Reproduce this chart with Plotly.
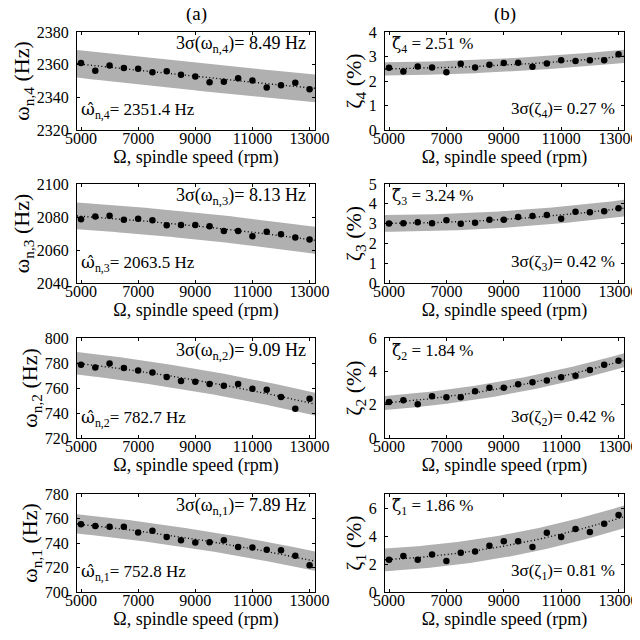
import numpy as np
import plotly.graph_objects as go

# ---------------- data ----------------
speed = [5000, 5500, 6000, 6500, 7000, 7500, 8000, 8500, 9000,
         9500, 10000, 10500, 11000, 11500, 12000, 12500, 13000]

wn4 = [2361.0, 2356.2, 2359.5, 2358.0, 2357.5, 2355.4, 2356.0, 2353.8, 2352.7,
       2349.3, 2349.5, 2351.7, 2350.3, 2346.0, 2347.4, 2349.0, 2345.0]
wn3 = [2078.7, 2080.3, 2080.7, 2078.3, 2078.9, 2078.1, 2075.0, 2075.2, 2075.2,
       2074.4, 2071.5, 2071.5, 2068.4, 2071.1, 2069.5, 2067.6, 2066.4]
wn2 = [778.7, 776.5, 779.7, 776.0, 774.1, 772.5, 768.8, 765.6, 765.1,
       763.2, 761.9, 763.2, 759.5, 758.7, 752.8, 743.5, 751.5]
wn1 = [755.4, 753.8, 753.2, 753.2, 748.6, 750.0, 745.0, 742.3, 740.4,
       740.7, 742.3, 736.8, 736.3, 734.4, 734.1, 729.5, 721.8]

z4 = [2.54, 2.39, 2.59, 2.55, 2.36, 2.70, 2.55, 2.66, 2.73,
      2.74, 2.58, 2.71, 2.85, 2.82, 2.85, 2.85, 3.09]
z3 = [3.00, 3.02, 3.07, 3.02, 3.17, 2.99, 3.04, 3.19, 3.19,
      3.33, 3.38, 3.43, 3.24, 3.60, 3.57, 3.62, 3.77]
z2 = [2.16, 2.26, 2.02, 2.51, 2.44, 2.44, 2.81, 3.01, 3.01,
      3.23, 3.35, 3.45, 3.64, 3.74, 4.08, 4.40, 4.63]
z1 = [2.31, 2.57, 2.31, 2.67, 2.21, 2.81, 2.90, 3.31, 3.62,
      3.62, 3.21, 4.24, 3.93, 4.50, 4.29, 4.88, 5.50]

three_sigma_w = [8.49, 8.13, 9.09, 7.89]      # modes 4,3,2,1
three_sigma_z = [0.27, 0.42, 0.42, 0.81]
w_hat = [2351.4, 2063.5, 782.7, 752.8]
z_hat = [2.51, 3.24, 1.84, 1.86]
mode_ids = [4, 3, 2, 1]

w_ranges = [[2320, 2380], [2040, 2100], [720, 800], [700, 780]]
w_ticks = [[2320, 2340, 2360, 2380], [2040, 2060, 2080, 2100],
           [720, 740, 760, 780, 800], [700, 720, 740, 760, 780]]
z_ranges = [[0, 4], [0, 5], [0, 6], [0, 7]]
z_ticks = [[0, 1, 2, 3, 4], [0, 1, 2, 3, 4, 5], [0, 2, 4, 6], [0, 2, 4, 6]]
x_ticks = [5000, 7000, 9000, 11000, 13000]
x_ticktext = ["5000", "7000", "9000", "11000", "13000"]
x_range = [4860, 13190]

w_data = [wn4, wn3, wn2, wn1]
z_data = [z4, z3, z2, z1]

# ---------------- layout geometry ----------------
W = H = 640
OFF = 8  # page body margin offset
col_x = [[77, 315], [385, 624]]
row_y = [[32, 130], [184, 283], [338, 438], [494, 592]]

FONT = "Liberation Serif"
HATFONT = "DejaVu Serif"
BAND = "rgb(176,176,176)"

fig = go.Figure()
layout = dict(
    width=W, height=H, margin=dict(l=0, r=0, t=0, b=0, autoexpand=False),
    paper_bgcolor="white", plot_bgcolor="white", showlegend=False,
    font=dict(family=FONT, size=16, color="black"),
)
annotations = []

xgrid = np.linspace(x_range[0], x_range[1], 200)
xs = np.array(speed, dtype=float)


def hat(ch):
    return f'<span style="font-family:{HATFONT}">{ch}\u0302</span>'


idx = 0
for r in range(4):
    for c in range(2):
        idx += 1
        xa = "x" if idx == 1 else f"x{idx}"
        ya = "y" if idx == 1 else f"y{idx}"
        xkey = "xaxis" if idx == 1 else f"xaxis{idx}"
        ykey = "yaxis" if idx == 1 else f"yaxis{idx}"
        m = mode_ids[r]
        if c == 0:
            ys = np.array(w_data[r])
            sig = three_sigma_w[r]
            yr, yt = w_ranges[r], w_ticks[r]
            ytitle = f"ω<sub>n,{m}</sub> (Hz)"
        else:
            ys = np.array(z_data[r])
            sig = three_sigma_z[r]
            yr, yt = z_ranges[r], z_ticks[r]
            ytitle = f"ζ<sub>{m}</sub> (%)"
        coef = np.polyfit(xs, ys, 2)
        fit = np.polyval(coef, xgrid)
        # band
        fig.add_trace(go.Scatter(
            x=np.concatenate([xgrid, xgrid[::-1]]),
            y=np.concatenate([fit + sig, (fit - sig)[::-1]]),
            fill="toself", fillcolor=BAND, line=dict(width=0),
            mode="lines", hoverinfo="skip", xaxis=xa, yaxis=ya))
        # fit line
        fig.add_trace(go.Scatter(
            x=xgrid, y=fit, mode="lines",
            line=dict(color="black", width=1.4, dash="1px,2.5px"),
            xaxis=xa, yaxis=ya))
        # data
        fig.add_trace(go.Scatter(
            x=xs, y=ys, mode="markers",
            marker=dict(color="black", size=6.5),
            xaxis=xa, yaxis=ya))

        x0, x1 = [v - OFF for v in col_x[c]]
        y0, y1 = [v - OFF for v in row_y[r]]
        layout[xkey] = dict(
            domain=[x0 / W, x1 / W], anchor=ya, range=x_range,
            tickvals=x_ticks, ticktext=x_ticktext,
            ticks="inside", ticklen=3, tickcolor="black",
            showline=True, linecolor="black", linewidth=1, mirror="ticks",
            showgrid=False, zeroline=False, automargin=False,
            ticklabelstandoff=-6,
            tickfont=dict(family=FONT, size=16),
            title=dict(text="Ω, spindle speed (rpm)", standoff=0,
                       font=dict(family=FONT, size=18)))
        layout[ykey] = dict(
            domain=[1 - y1 / H, 1 - y0 / H], anchor=xa, range=yr,
            tickvals=yt, ticks="inside", ticklen=3, tickcolor="black",
            showline=True, linecolor="black", linewidth=1, mirror="ticks",
            showgrid=False, zeroline=False, automargin=False,
            ticklabelstandoff=4,
            tickfont=dict(family=FONT, size=16),
            title=dict(text=ytitle, standoff=0,
                       font=dict(family=FONT, size=22)))

        if c == 0:
            annotations.append(dict(
                xref=f"{xa} domain", yref=f"{ya} domain", x=0.97, y=0.87,
                xanchor="right", yanchor="middle", showarrow=False,
                text=f"3σ(ω<sub>n,{m}</sub>)= {sig:.2f} Hz",
                font=dict(family=FONT, size=18)))
            annotations.append(dict(
                xref=f"{xa} domain", yref=f"{ya} domain", x=0.01, y=0.2,
                xanchor="left", yanchor="middle", showarrow=False,
                text=f"{hat('ω')}<sub>n,{m}</sub>= {w_hat[r]:.1f} Hz",
                font=dict(family=FONT, size=17)))
        else:
            annotations.append(dict(
                xref=f"{xa} domain", yref=f"{ya} domain", x=0.02, y=0.87,
                xanchor="left", yanchor="middle", showarrow=False,
                text=f"{hat('ζ')}<sub>{m}</sub> = {z_hat[r]:.2f} %",
                font=dict(family=FONT, size=17)))
            annotations.append(dict(
                xref=f"{xa} domain", yref=f"{ya} domain", x=0.97, y=0.2,
                xanchor="right", yanchor="middle", showarrow=False,
                text=f"3σ(ζ<sub>{m}</sub>)= {sig:.2f} %",
                font=dict(family=FONT, size=17)))

annotations.append(dict(xref="paper", yref="paper", x=((77 + 315) / 2 - OFF) / W,
                        y=1 - (14 - OFF) / H,
                        text="(a)", showarrow=False, xanchor="center", yanchor="middle",
                        font=dict(family=FONT, size=19)))
annotations.append(dict(xref="paper", yref="paper", x=((385 + 624) / 2 - OFF) / W,
                        y=1 - (14 - OFF) / H,
                        text="(b)", showarrow=False, xanchor="center", yanchor="middle",
                        font=dict(family=FONT, size=19)))
layout["annotations"] = annotations
fig.update_layout(**layout)
fig.write_html("out.html")
